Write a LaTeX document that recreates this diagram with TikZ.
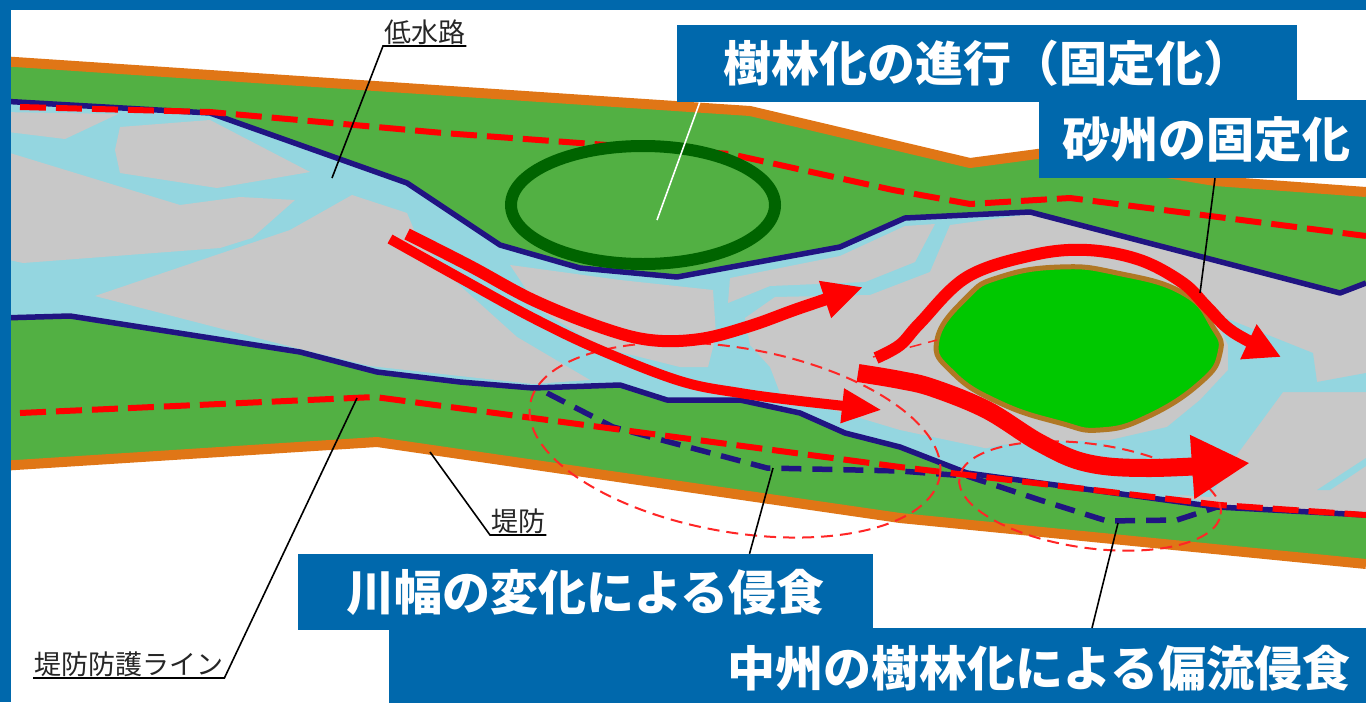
\documentclass[tikz,border=0pt]{standalone}
\usepackage{fontspec}
\usetikzlibrary{arrows.meta}
\newfontfamily\jpfont{Noto Sans CJK JP}

\definecolor{tagblue}{RGB}{0,104,172}
\definecolor{bankgreen}{RGB}{82,176,67}
\definecolor{leveeorange}{RGB}{224,118,22}
\definecolor{lowbank}{RGB}{32,20,130}
\definecolor{bargrey}{RGB}{200,200,200}
\definecolor{waterblue}{RGB}{148,214,224}
\definecolor{treegreen}{RGB}{0,100,0}
\definecolor{bargreen}{RGB}{0,200,0}
\definecolor{barbrown}{RGB}{176,120,36}

\tikzset{
  levee/.style={draw=leveeorange, line width=10pt, line join=round},
  lowline/.style={draw=lowbank, line width=5.5pt, line join=round},
  oldline/.style={draw=lowbank, line width=5.5pt, dash pattern=on 20pt off 11pt},
  guard/.style={draw=red, line width=6pt, dash pattern=on 26pt off 10pt},
  zone/.style={draw=red!85, line width=2pt, dash pattern=on 12pt off 7pt},
  flow/.style={draw=red, line width=#1, line cap=butt},
  callout/.style={font=\jpfont\fontsize{27}{27}\selectfont, text=black!85, inner sep=1pt},
  leader/.style={draw=black, line width=1.6pt},
  tag/.style={fill=tagblue, text=white, font=\jpfont\bfseries\fontsize{48}{48}\selectfont, inner sep=0pt},
}

\begin{document}
\begin{tikzpicture}[x=1pt, y=-1pt]
 \useasboundingbox (0,0) rectangle (1366,702);
 \fill[white] (0,0) rectangle (1366,702);

 % embankment strip
 \fill[bankgreen] (0,61) -- (750,111) -- (970,163) -- (1045,153) -- (1215,181) -- (1366,192)
   -- (1366,564) -- (900,518) -- (377,442) -- (0,466) -- cycle;

 % low water channel
 \fill[waterblue] (0,101) -- (210,113) -- (407,183) -- (500,245) -- (580,268) -- (677,277)
   -- (840,247) -- (905,218) -- (1030,212) -- (1340,293) -- (1366,283)
   -- (1366,515) -- (1217,507) -- (967,473) -- (900,447) -- (845,433) -- (800,413)
   -- (740,400) -- (667,400) -- (620,385) -- (533,388) -- (460,382) -- (377,372)
   -- (300,352) -- (70,316) -- (0,318) -- cycle;

 % gravel bars
 \begin{scope}[bargrey]
  \fill (0,112) -- (118,114) -- (65,139) -- (0,131) -- cycle;
  \fill (120,127) -- (210,120) -- (310,172) -- (217,188) -- (120,173) -- (115,150) -- cycle;
  \fill (0,150) -- (180,205) -- (240,197) -- (295,200) -- (252,238) -- (220,248) -- (23,263) -- (0,258) -- cycle;
  \fill (95,296) -- (290,230) -- (352,195) -- (407,213) -- (417,237) -- (457,283) -- (517,337)
    -- (590,380) -- (533,384) -- (460,376) -- (370,366) -- (300,349) -- cycle;
  \fill (510,265) -- (620,280) -- (713,290) -- (716,335) -- (708,367) -- (680,367) -- (600,347) -- (540,310) -- cycle;
  \fill (730,278) -- (840,256) -- (905,226) -- (935,224) -- (915,262) -- (865,282) -- (770,286) -- (728,303) -- cycle;
  \fill (745,318) -- (775,297) -- (870,295) -- (930,272) -- (950,225) -- (1030,214) -- (1340,293)
    -- (1366,285) -- (1366,512) -- (1217,505) -- (980,447) -- (900,430) -- (840,412) -- (780,393)
    -- (770,367) -- (750,345) -- cycle;
 \end{scope}
 \fill[waterblue] (1213,313) -- (1313,353) -- (1317,382) -- (1366,373) -- (1366,392) -- (1283,392)
   -- (1233,460) -- (1210,497) -- (1100,490) -- (1000,472) -- (960,455) -- (1000,445) -- (1040,442)
   -- (1110,440) -- (1167,427) -- (1200,400) -- (1228,370) -- (1228,345) -- cycle;
 \fill[waterblue] (1317,490) -- (1366,458) -- (1366,466) -- (1330,490) -- cycle;

 % channel banks
 \draw[lowline] (0,101) -- (210,113) -- (407,183) -- (500,245) -- (580,268) -- (677,277)
   -- (840,247) -- (905,218) -- (1030,212) -- (1340,293) -- (1366,283);
 \draw[lowline] (0,318) -- (70,316) -- (300,352) -- (377,372) -- (460,382) -- (533,388)
   -- (620,385) -- (667,400) -- (740,400) -- (800,413) -- (845,433) -- (900,447) -- (967,473)
   -- (1217,507) -- (1366,515);
 \draw[oldline] (547,393) -- (613,427) -- (673,443) -- (767,468) -- (900,471) -- (967,476)
   -- (1040,500) -- (1107,521) -- (1177,520) -- (1217,507);

 % protection lines
 \draw[guard] (20,107) -- (210,112) -- (443,133) -- (730,154) -- (893,190) -- (970,204)
   -- (1070,198) -- (1366,236);
 \draw[guard] (20,413) -- (375,397) -- (900,467) -- (1220,505) -- (1366,515);

 % levee crowns
 \draw[levee] (0,61) -- (750,111) -- (970,163) -- (1045,153) -- (1215,181) -- (1366,192);
 \draw[levee] (0,466) -- (377,442) -- (900,518) -- (1366,564);

 % wooded area and fixed bar
 \draw[treegreen, line width=12pt] (643,205) ellipse [x radius=132pt, y radius=59pt];
 \draw[barbrown, fill=bargreen, line width=5pt] plot[smooth cycle, tension=0.8] coordinates {
   (937,340) (967,297) (1000,277) (1060,267) (1117,273) (1183,293) (1213,327) (1220,353)
   (1200,383) (1147,417) (1100,430) (1060,423) (1000,403) (953,373)};

 % erosion zones
 \draw[zone, rotate around={-10:(735,440)}] (735,440) ellipse [x radius=208pt, y radius=92pt];
 \draw[zone, rotate around={-8:(1090,496)}] (1090,496) ellipse [x radius=132pt, y radius=52pt];
 \draw[zone, line width=1.5pt] (873,357) -- (937,340);

 % flow
 \draw[flow=12pt, -{Triangle[length=40pt, width=36pt]}] plot[smooth, tension=0.6] coordinates {
   (407,234) (470,266) (533,300) (600,327) (650,340) (700,339) (750,326) (800,308) (863,287)};
 \draw[flow=10pt, -{Triangle[length=40pt, width=32pt]}] plot[smooth, tension=0.6] coordinates {
   (390,239) (460,278) (533,318) (600,350) (680,381) (740,393) (800,401) (882,410)};
 \draw[flow=12pt, -{Triangle[length=36pt, width=36pt]}] plot[smooth, tension=0.6] coordinates {
   (876,358) (900,345) (920,323) (967,277) (1033,255) (1087,250) (1140,260) (1183,283)
   (1207,307) (1233,332) (1281,357)};
 \draw[flow=18pt, -{Triangle[length=58pt, width=60pt]}] plot[smooth, tension=0.6] coordinates {
   (858,373) (900,380) (933,388) (987,410) (1040,443) (1087,463) (1150,468) (1250,463)};

 % small labels
 \node[callout, anchor=south west] (lowwater) at (383,46) {低水路};
 \node[callout, anchor=south west] (levee) at (490,535) {堤防};
 \node[callout, anchor=south west] (guardline) at (33,678) {堤防防護ライン};
 \coordinate (lowwater-end) at (332,178);
 \coordinate (levee-end) at (430,452);
 \coordinate (guardline-end) at (357,398);
 \draw[leader] (lowwater-end) -- (lowwater.south west) -- (lowwater.south east);
 \draw[leader] (levee-end) -- (levee.south west) -- (levee.south east);
 \draw[leader] (guardline-end) -- (guardline.south east) -- (guardline.south west);

 % captions
 \node[tag, minimum width=620pt, minimum height=77pt] (forest) at (987,63.5) {樹林化の進行（固定化）};
 \node[tag, minimum width=334pt, minimum height=78pt] (fixedbar) at (1206,139) {砂州の固定化};
 \node[tag, minimum width=575pt, minimum height=76pt] (narrowing) at (585.5,592) {川幅の変化による侵食};
 \node[tag, anchor=north west, text width=945pt, align=right, inner xsep=16pt, minimum height=80pt]
   (deflect) at (389,628) {中州の樹林化による偏流侵食};
 \coordinate (forest-end) at (657,220);
 \coordinate (fixedbar-end) at (1200,293);
 \coordinate (narrowing-end) at (773,468);
 \coordinate (deflect-end) at (1118,523);
 \draw[white, line width=1.6pt] ([xshift=23pt]forest.south west) -- (forest-end);
 \draw[leader] ([xshift=9pt]fixedbar.south) -- (fixedbar-end);
 \draw[leader] ([xshift=164pt]narrowing.north) -- (narrowing-end);
 \draw[leader] ([xshift=703pt]deflect.north west) -- (deflect-end);

 % frame
 \fill[tagblue] (0,0) rectangle (1366,10);
 \fill[tagblue] (0,0) rectangle (11,702);
\end{tikzpicture}
\end{document}
